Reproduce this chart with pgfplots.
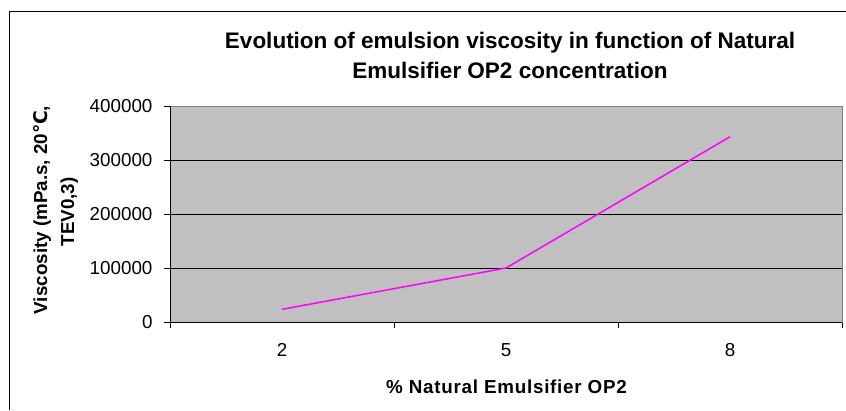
\documentclass[border=0pt]{standalone}
\usepackage{pgfplots}
\pgfplotsset{compat=1.18}
\usepackage{fontspec}
\setmainfont{Liberation Sans}
\newfontfamily\dejavu{DejaVu Sans}
\definecolor{plotgray}{HTML}{C0C0C0}
\definecolor{bordergray}{HTML}{808080}
\definecolor{linemag}{HTML}{FF00FF}
\begin{document}
\begin{tikzpicture}[x=1pt,y=1pt]
\useasboundingbox (0,0) rectangle (846,-410);
\draw[black,line width=1pt] (9,-410) -- (9,-11.3) -- (846,-11.3);
\begin{axis}[
  at={(170pt,-322pt)}, anchor=south west, scale only axis,
  width=672pt, height=216pt,
  xmin=-0.5, xmax=2.5, ymin=0, ymax=400000,
  axis background/.style={fill=plotgray},
  axis line style={draw=bordergray, line width=1pt},
  xtick={0,1,2}, xticklabels={2,5,8},
  minor xtick={-0.5,0.5,1.5,2.5},
  ytick={0,100000,200000,300000,400000},
  xtick pos=bottom, ytick pos=left,
  scaled y ticks=false,
  /pgf/number format/fixed,
  /pgf/number format/1000 sep={},
  /pgf/number format/assume math mode=true,
  tick align=outside,
  major tick length=6pt, minor tick length=6pt,
  major x tick style={draw=none},
  tick style={black, line width=0.8pt},
  ticklabel style={font=\fontsize{18.8}{22}\selectfont},
  yticklabel style={xshift=-8pt},
  xticklabel style={yshift=-12pt},
  ymajorgrids, grid style={black, line width=0.8pt},
  clip=false,
]
\addplot[linemag, line width=1.5pt] coordinates {(0,23500) (1,100000) (2,343000)};
\draw[black, line width=1pt] (rel axis cs:0,1) -- (rel axis cs:0,0) -- (rel axis cs:1,0);
\end{axis}
\node[anchor=base, font=\bfseries\fontsize{22.5}{28}\selectfont] at (510,-48) {Evolution of emulsion viscosity in function of Natural};
\node[anchor=base, font=\bfseries\fontsize{22.5}{28}\selectfont] at (510,-78) {Emulsifier OP2 concentration};
\node[anchor=base, font=\bfseries\fontsize{18.8}{22}\selectfont\addfontfeatures{LetterSpace=4}] at (506.5,-393) {\% Natural Emulsifier OP2};
\node[anchor=base, rotate=90, font=\bfseries\fontsize{18.8}{22}\selectfont] at (47,-210) {Viscosity (mPa.s, 20{\dejavu\bfseries ℃},};
\node[anchor=base, rotate=90, font=\bfseries\fontsize{18.8}{22}\selectfont] at (74,-212) {TEV0,3)};
\end{tikzpicture}
\end{document}
